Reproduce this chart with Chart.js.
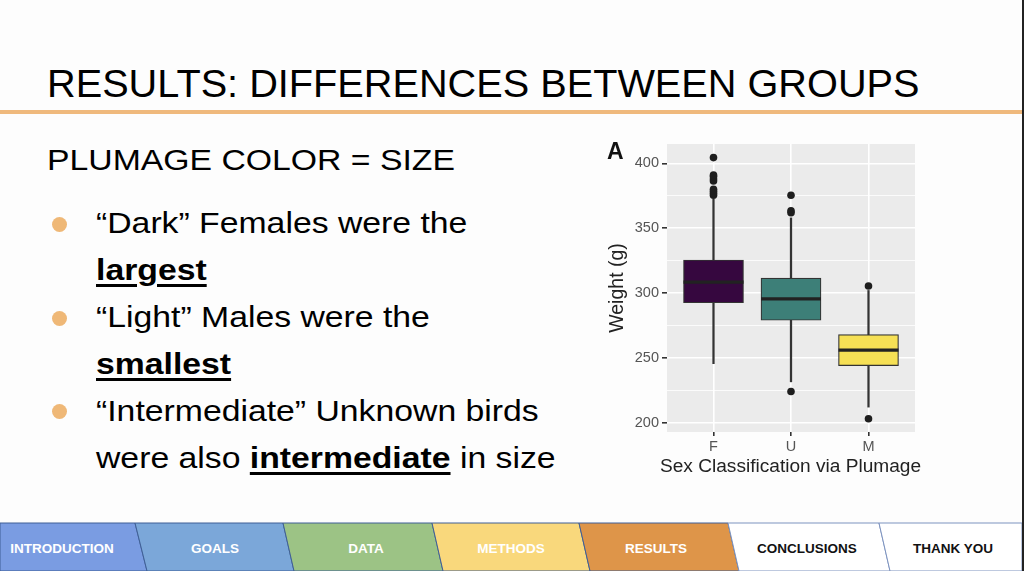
<!DOCTYPE html>
<html>
<head>
<meta charset="utf-8">
<script src="https://cdn.jsdelivr.net/npm/chart.js@4"></script>
<style>
  html, body { margin:0; padding:0; }
  body { width:1024px; height:571px; position:relative; overflow:hidden; background:#fdfdfd; font-family:"Liberation Sans", Arial, sans-serif; color:#000; }
  .t { position:absolute; white-space:nowrap; }
  .wide { transform:scaleX(1.125); transform-origin:0 0; }
  #title { left:47px; top:63px; font-size:39.7px; line-height:40px; }
  #rule { position:absolute; left:0; top:110px; width:1022px; height:4px; background:#efb97d; }
  #edge { position:absolute; left:1022px; top:0; width:2px; height:571px; background:#222; }
  #sub { left:47px; top:145px; font-size:30px; line-height:30px; }
  .bl { left:96px; font-size:30px; line-height:47px; }
  .bl b u { text-decoration-thickness:2.6px; text-underline-offset:4px; }
  .dot { position:absolute; width:15px; height:15px; border-radius:50%; background:#efb877; }
  #chartBox { position:absolute; left:600px; top:140px; width:330px; height:340px; }
  #lblA { left:607px; top:140px; font-size:23px; line-height:23px; font-weight:bold; color:#111; }
  #xTitle { left:660px; top:456px; font-size:19.1px; line-height:20px; color:#222; }
  #footer { position:absolute; left:0; top:515px; }
</style>
</head>
<body>
<div class="t" id="title">RESULTS: DIFFERENCES BETWEEN GROUPS</div>
<div id="rule"></div>
<div class="t wide" id="sub">PLUMAGE COLOR = SIZE</div>

<div class="dot" style="left:52px;top:217px"></div>
<div class="dot" style="left:52px;top:311px"></div>
<div class="dot" style="left:52px;top:404px"></div>
<div class="t bl wide" style="top:199px">“Dark” Females were the</div>
<div class="t bl wide" style="top:246px"><b><u>largest</u></b></div>
<div class="t bl wide" style="top:293px">“Light” Males were the</div>
<div class="t bl wide" style="top:340px"><b><u>smallest</u></b></div>
<div class="t bl wide" style="top:387px">“Intermediate” Unknown birds</div>
<div class="t bl wide" style="top:434px">were also <b><u>intermediate</u></b> in size</div>

<div id="chartBox"><canvas id="c" width="330" height="340"></canvas></div>
<div class="t" id="lblA">A</div>
<div class="t" id="xTitle">Sex Classification via Plumage</div>

<svg id="footer" width="1024" height="56" viewBox="0 515 1024 56">
  <g stroke="#3f5f96" stroke-width="1">
    <polygon points="0,523 135,523 147,571 0,571" fill="#7a9ce2"/>
    <polygon points="135,523 283,523 294,571 147,571" fill="#7ba7d9"/>
    <polygon points="283,523 432,523 443,571 294,571" fill="#9cc385"/>
    <polygon points="432,523 579,523 590,571 443,571" fill="#f9d87c"/>
    <polygon points="579,523 728,523 739,571 590,571" fill="#de9549"/>
    <polygon points="728,523 879,523 890,571 739,571" fill="#ffffff" stroke="#7d93bf"/>
    <polygon points="879,523 1022,523 1022,571 890,571" fill="#ffffff" stroke="#7d93bf"/>
  </g>
  <g font-family="Liberation Sans, Arial, sans-serif" font-weight="bold" font-size="13.5" text-anchor="middle">
    <text x="62" y="553" fill="#ffffff">INTRODUCTION</text>
    <text x="215" y="553" fill="#ffffff">GOALS</text>
    <text x="366" y="553" fill="#ffffff">DATA</text>
    <text x="511" y="553" fill="#ffffff">METHODS</text>
    <text x="656" y="553" fill="#ffffff">RESULTS</text>
    <text x="807" y="553" fill="#111111">CONCLUSIONS</text>
    <text x="953" y="553" fill="#111111">THANK YOU</text>
  </g>
</svg>
<div id="edge"></div>

<script>
// ---- data ----
const categories = ['F', 'U', 'M'];
const q1         = [292.5, 279.0, 244.0];
const median     = [308.5, 295.5, 256.0];
const q3         = [325.5, 311.5, 268.0];
const whiskerLow = [245.5, 231.5, 212.0];
const whiskerHigh= [372.5, 358.0, 302.0];
const outliersF  = [375.5, 377.0, 378.5, 380.0, 386.5, 388.0, 390.0, 391.0, 404.5];
const outliersU  = [224.0, 362.0, 363.5, 375.5];
const outliersM  = [203.0, 305.5];
const yTicks     = [200, 225, 250, 275, 300, 325, 350, 375, 400];
const boxColors  = ['#36073f', '#3d7f78', '#f6e055'];

const xs = categories.map((_, i) => i + 1);
const outlierPts = [].concat(
  outliersF.map(v => ({x: 1, y: v})),
  outliersU.map(v => ({x: 2, y: v})),
  outliersM.map(v => ({x: 3, y: v}))
);

const panelBg = {
  id: 'panelBg',
  beforeDraw(chart) {
    const {ctx, chartArea: a} = chart;
    ctx.save();
    ctx.fillStyle = '#ebebeb';
    ctx.fillRect(a.left, a.top, a.right - a.left, a.bottom - a.top);
    ctx.restore();
  }
};

new Chart(document.getElementById('c'), {
  type: 'bar',
  data: {
    datasets: [
      {
        type: 'line', label: 'outliers', order: 0, showLine: false,
        data: outlierPts, pointRadius: 3.8, pointBackgroundColor: '#1e1e1e',
        pointBorderWidth: 0, pointStyle: 'circle'
      },
      {
        type: 'line', label: 'median', order: 0, showLine: false,
        data: xs.map((x, i) => ({x, y: median[i]})),
        pointStyle: 'line', pointRadius: 30, pointBorderWidth: 3.2,
        pointBorderColor: '#222', borderColor: '#222'
      },
      {
        label: 'box', order: 1, grouped: false,
        data: xs.map((x, i) => ({x, y: [q1[i], q3[i]]})),
        backgroundColor: boxColors, borderColor: '#333', borderWidth: 1.2,
        borderSkipped: false, barThickness: 60
      },
      {
        label: 'whisker', order: 2, grouped: false,
        data: xs.map((x, i) => ({x, y: [whiskerLow[i], whiskerHigh[i]]})),
        backgroundColor: '#333', borderWidth: 0, barThickness: 1.6
      }
    ]
  },
  options: {
    responsive: false,
    animation: false,
    events: [],
    layout: { autoPadding: false, padding: { left: 0, right: 15, top: 4, bottom: 0 } },
    plugins: { legend: { display: false }, tooltip: { enabled: false } },
    scales: {
      x: {
        type: 'linear', min: 0.4, max: 3.6, offset: false,
        afterBuildTicks(s) { s.ticks = xs.map(v => ({value: v})); },
        afterFit(s) { s.height = 48; s.paddingLeft = 0; s.paddingRight = 0; },
        border: { display: false },
        grid: { offset: false, color: '#ffffff', lineWidth: 1.6, tickColor: '#333', tickLength: 4, drawOnChartArea: true },
        ticks: {
          callback: (v) => categories[v - 1] ?? '',
          color: '#555', font: { family: 'Liberation Sans', size: 14.5 }, padding: 2
        },
        title: { display: false }
      },
      y: {
        type: 'linear', min: 192.8, max: 415,
        afterBuildTicks(s) { s.ticks = yTicks.map(v => ({value: v})); },
        afterFit(s) { s.width = 67; s.paddingTop = 0; s.paddingBottom = 0; },
        border: { display: false },
        grid: {
          offset: false,
          color: '#ffffff',
          lineWidth: (ctx) => (ctx.tick && ctx.tick.value % 50 === 0) ? 1.6 : 0.8,
          tickColor: (ctx) => (ctx.tick && ctx.tick.value % 50 === 0) ? '#333' : 'rgba(0,0,0,0)',
          tickLength: 5
        },
        ticks: {
          callback: (v) => v % 50 === 0 ? String(v) : '',
          color: '#555', font: { family: 'Liberation Sans', size: 14.5 }, padding: 3
        },
        title: {
          display: true, text: 'Weight (g)', color: '#222',
          font: { family: 'Liberation Sans', size: 19.5 }, padding: { top: 6, bottom: 0 }
        }
      }
    }
  },
  plugins: [panelBg]
});
</script>
</body>
</html>
